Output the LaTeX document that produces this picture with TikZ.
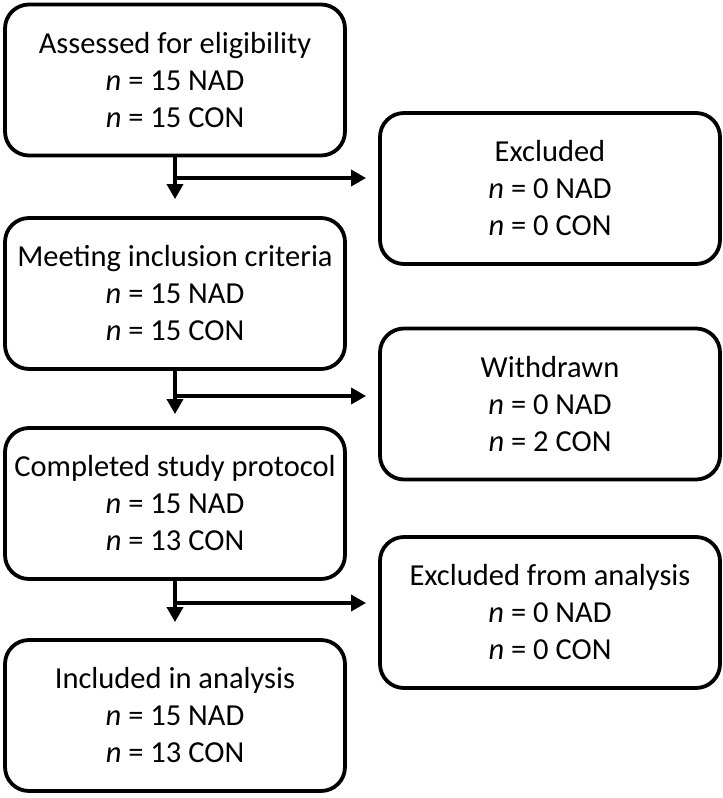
\documentclass[tikz,border=0pt]{standalone}
\usepackage{fontspec}
\setmainfont{Carlito}
\usetikzlibrary{arrows.meta}
\tikzset{
  box/.style={draw,line width=3.8pt,rounded corners=24pt,minimum width=340pt,
    minimum height=151pt,inner sep=0pt,align=center,
    font=\fontsize{30.5}{37}\selectfont},
  arr/.style={line width=3.4pt,-{Triangle[length=15pt,width=16pt]}}
}
\begin{document}
\begin{tikzpicture}[x=1pt,y=-1pt]
\useasboundingbox(0,0)rectangle(723,798);

%left column
\node[box](assess)at(175,80){Assessed for eligibility\\\textit{n} = 15 NAD\\\textit{n} = 15 CON};
\node[box](meet)at(175,293.5){Meeting inclusion criteria\\\textit{n} = 15 NAD\\\textit{n} = 15 CON};
\node[box](compl)at(175,503.5){Completed study protocol\\\textit{n} = 15 NAD\\\textit{n} = 13 CON};
\node[box](incl)at(175,715.5){Included in analysis\\\textit{n} = 15 NAD\\\textit{n} = 13 CON};

%right column
\node[box](excl)at(550,188.5){Excluded\\\textit{n} = 0 NAD\\\textit{n} = 0 CON};
\node[box](withdr)at(550,404){Withdrawn\\\textit{n} = 0 NAD\\\textit{n} = 2 CON};
\node[box](exanal)at(550,612.5){Excluded from analysis\\\textit{n} = 0 NAD\\\textit{n} = 0 CON};

%branch points
\coordinate(b1)at(175,178);
\coordinate(b2)at(175,396);
\coordinate(b3)at(175,603);

%arrows down
\draw[arr,shorten >=17pt](assess.south)--(meet.north);
\draw[arr,shorten >=12pt](meet.south)--(compl.north);
\draw[arr,shorten >=16pt](compl.south)--(incl.north);

%arrows right
\draw[arr,shorten >=12pt](b1)--(b1-|excl.west);
\draw[arr,shorten >=12pt](b2)--(b2-|withdr.west);
\draw[arr,shorten >=12pt](b3)--(b3-|exanal.west);

\end{tikzpicture}
\end{document}
